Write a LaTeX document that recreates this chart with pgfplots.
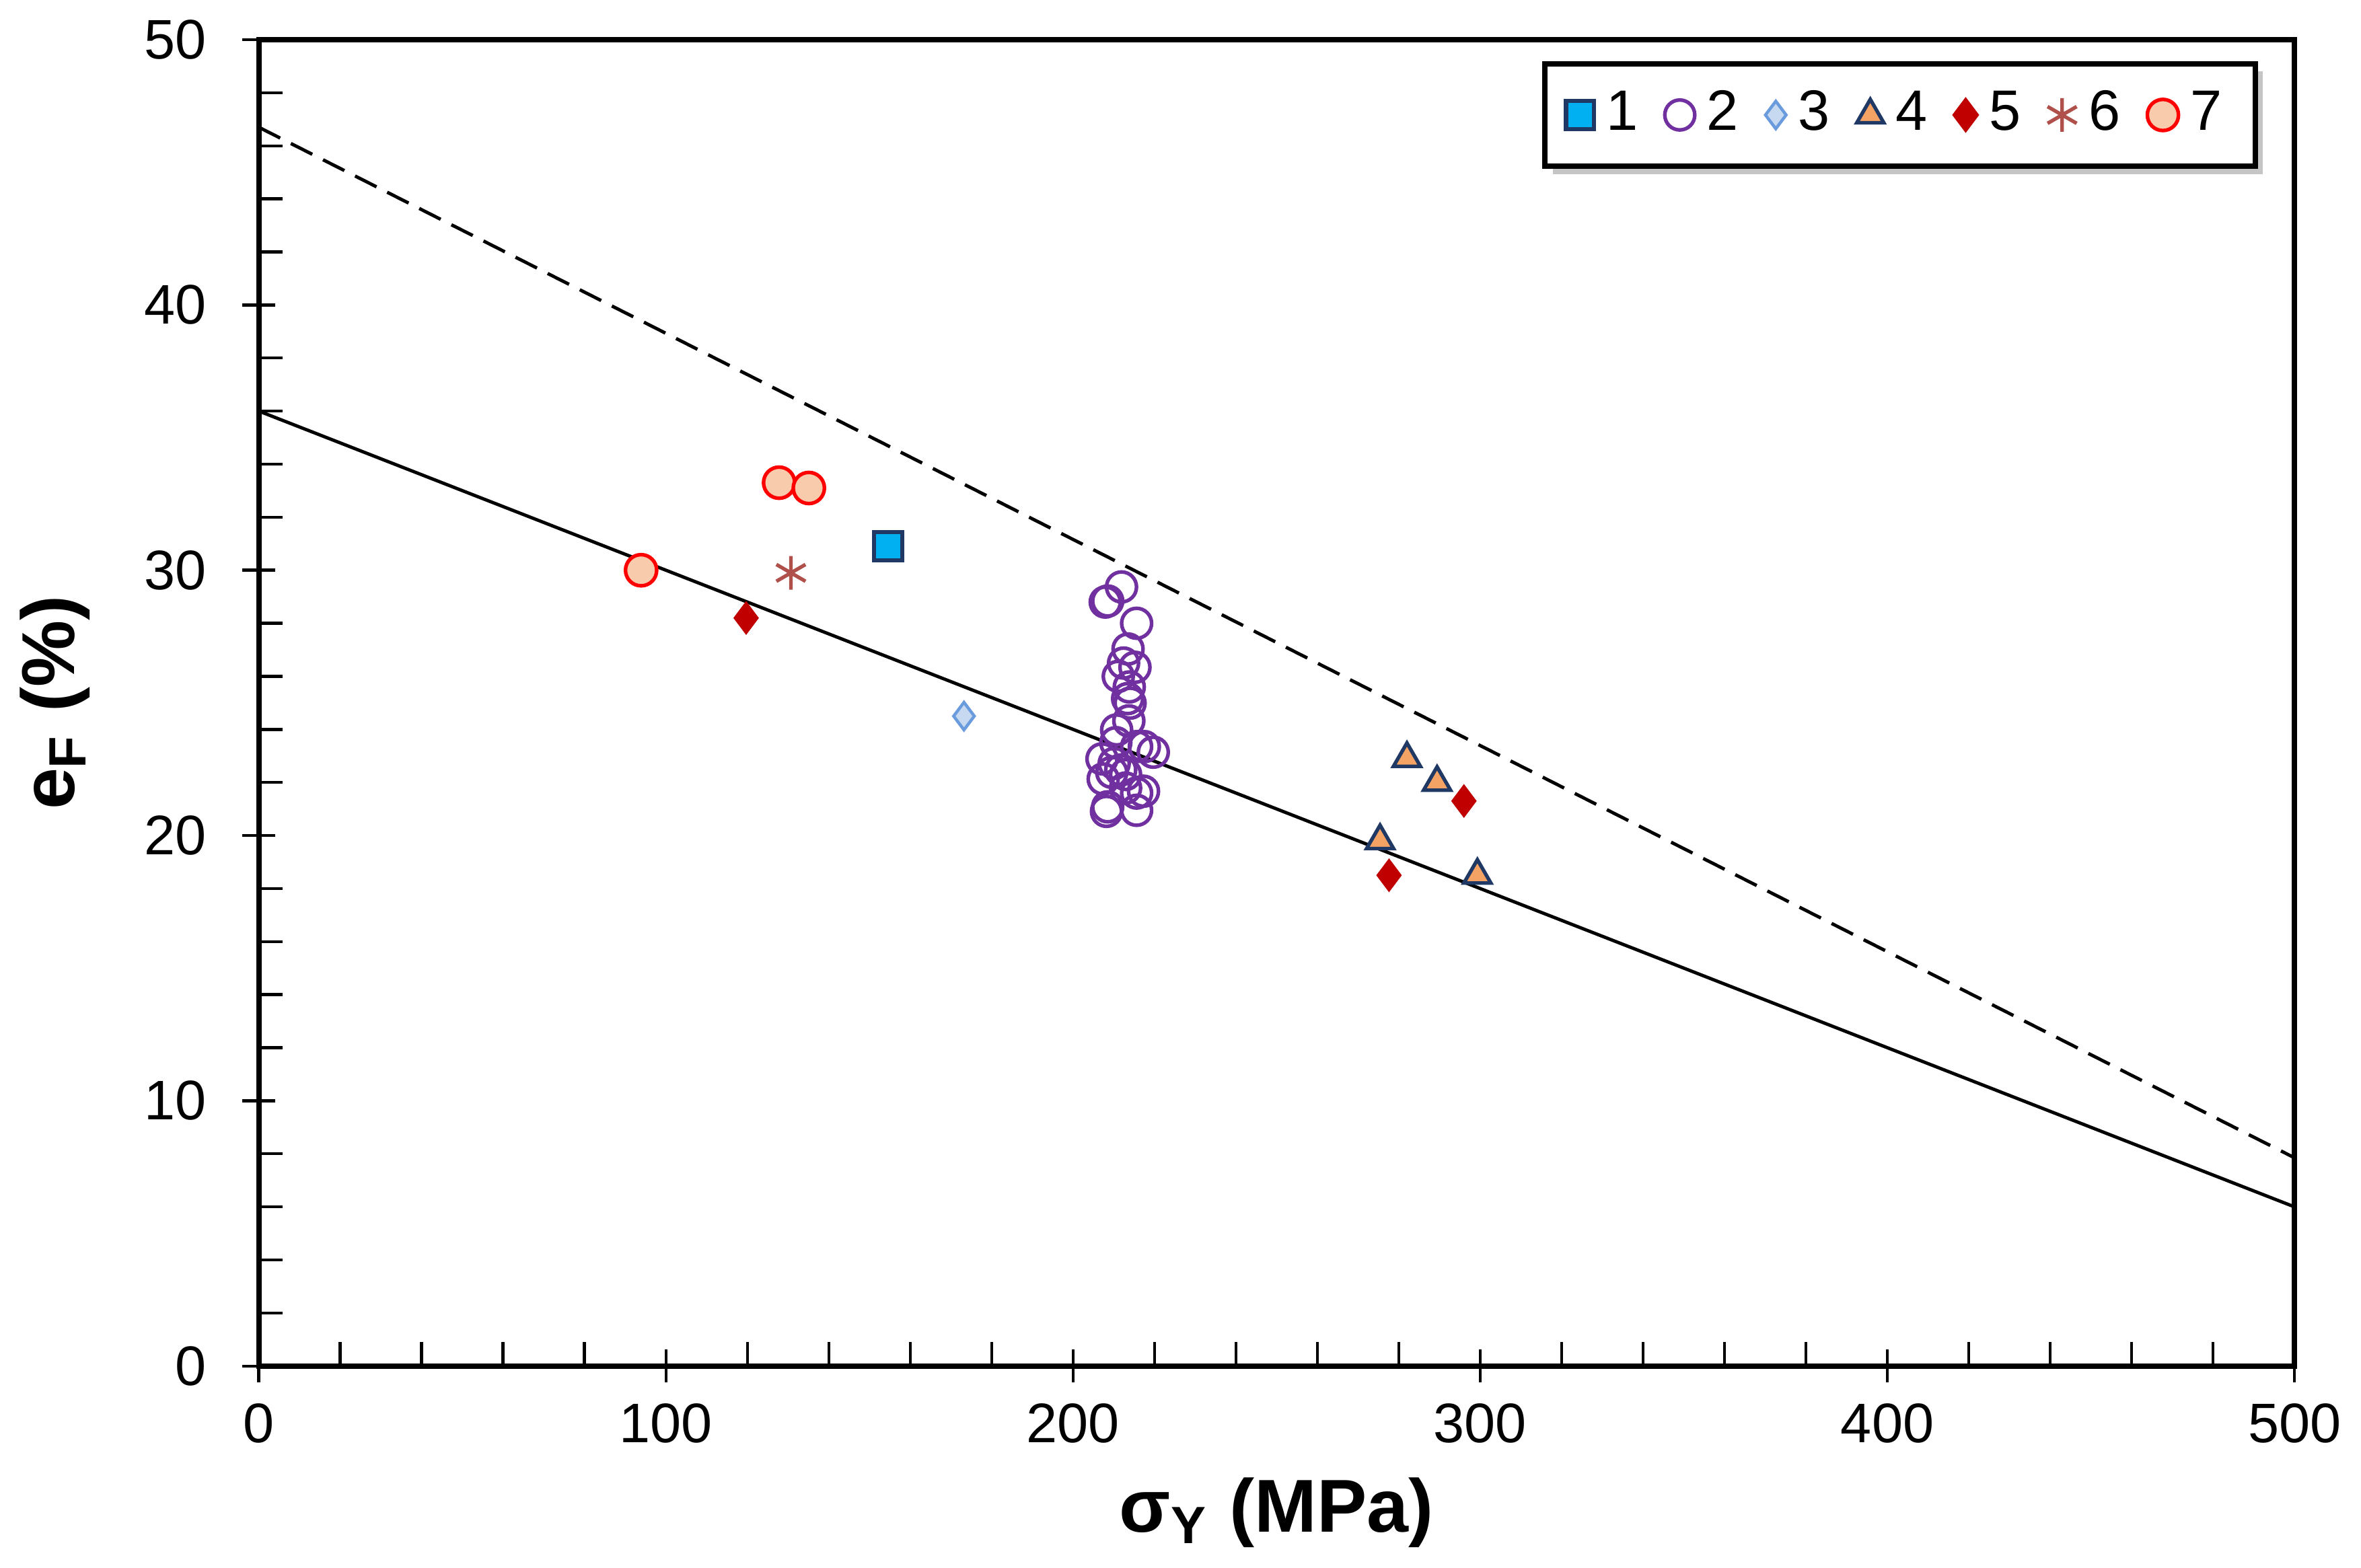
\documentclass[border=0pt]{standalone}
\usepackage{fontspec}
\setmainfont{Liberation Sans}
\usepackage{pgfplots}
\pgfplotsset{compat=1.18}
\usetikzlibrary{shadows}

\definecolor{cA}{HTML}{00B0F0}
\definecolor{navy}{HTML}{1F3864}
\definecolor{cB}{HTML}{7030A0}
\definecolor{cCfill}{HTML}{C6D9F1}
\definecolor{cCdraw}{HTML}{6A9BDD}
\definecolor{cD}{HTML}{F5A364}
\definecolor{cE}{HTML}{C00000}
\definecolor{cF}{HTML}{B0504B}
\definecolor{cGfill}{HTML}{F8CBAD}
\definecolor{cGdraw}{HTML}{FF0000}

\pgfplotstableread{
x y
211.9 29.37
208.5 28.84
207.9 28.80
215.6 28.00
213.5 27.03
212.4 26.50
215.2 26.34
211.1 26.00
213.8 25.60
213.4 25.16
214.0 24.99
213.7 24.32
210.7 23.98
210.5 23.50
215.6 23.35
217.5 23.35
219.7 23.14
207.1 22.89
210.1 22.72
211.7 22.47
209.5 22.38
212.9 22.30
207.4 22.13
212.9 21.79
217.3 21.67
215.6 21.60
208.5 21.08
208.2 20.91
215.6 20.95
}\serB

\begin{document}
\begin{tikzpicture}
\begin{axis}[
    scale only axis,
    width=339.5pt, height=221.25pt,
    xmin=0, xmax=500, ymin=0, ymax=50,
    xtick={0,100,...,500}, ytick={0,10,...,50},
    minor x tick num=4, minor y tick num=4,
    xtick pos=bottom, ytick pos=left,
    tick align=center,
    major tick length=5.5pt, minor tick length=4pt,
    minor x tick style={yshift=2pt},
    minor y tick style={xshift=2pt},
    tick style={black, line width=0.5pt},
    axis line style={line width=0.9pt},
    ticklabel style={font=\fontsize{9.3}{10}\selectfont},
    yticklabel style={xshift=-2.5pt},
    /pgf/number format/assume math mode=true,
    xlabel={σ\textsubscript{Y} (MPa)},
    ylabel={e\textsubscript{F} (\%)},
    label style={font=\fontsize{12.5}{14}\selectfont\bfseries},
    xlabel style={at={(axis description cs:0.5,0)}, anchor=center, yshift=-24.5pt},
    ylabel style={at={(axis description cs:0,0.5)}, anchor=center, yshift=34pt},
    legend columns=7,
    legend style={at={(axis description cs:0.982,0.984)}, anchor=north east,
        draw=black, line width=0.9pt, fill=white,
        drop shadow={shadow xshift=1.3pt, shadow yshift=-1.3pt, fill=black!45},
        font=\fontsize{9.5}{10}\selectfont,
        inner xsep=3.5pt, inner ysep=2.5pt,
        /tikz/every even column/.append style={column sep=2.5pt}},
    legend image code/.code={\draw[mark repeat=2,mark phase=2,line width=0.6pt]
        plot coordinates {(0pt,0pt) (3pt,0pt) (6pt,0pt)};},
]
% regression lines
\addplot[black, line width=0.55pt, forget plot] coordinates {(0,36.0) (500,6.0)};
\addplot[black, line width=0.55pt, dash pattern=on 4pt off 2pt, forget plot]
    coordinates {(0,46.7) (500,7.85)};

\addplot[only marks, mark=square*, mark size=2.35pt, mark options={fill=cA, draw=navy, line width=0.7pt}]
    coordinates {(154.6,30.9)};
\addplot[only marks, mark=o, mark size=2.5pt, mark options={draw=cB, line width=0.6pt}]
    table {\serB};
\addplot[only marks, mark=diamond*, mark size=2.3pt, mark options={fill=cCfill, draw=cCdraw, line width=0.5pt}]
    coordinates {(173.2,24.5)};
\addplot[only marks, mark=triangle*, mark size=2.6pt, mark options={fill=cD, draw=navy, line width=0.6pt}]
    coordinates {(282.0,22.9) (289.4,22.0) (275.4,19.8) (299.3,18.5)};
\addplot[only marks, mark=diamond*, mark size=2.5pt, mark options={fill=cE, draw=cE}]
    coordinates {(119.7,28.2) (277.6,18.5) (296.0,21.3)};
\addplot[only marks, mark=asterisk, mark size=2.8pt, mark options={draw=cF, line width=0.6pt}]
    coordinates {(130.7,29.9)};
\addplot[only marks, mark=*, mark size=2.6pt, mark options={fill=cGfill, draw=cGdraw, line width=0.6pt}]
    coordinates {(93.9,30.0) (127.8,33.3) (135.1,33.1)};
\legend{1,2,3,4,5,6,7}
\end{axis}
\end{tikzpicture}
\end{document}
